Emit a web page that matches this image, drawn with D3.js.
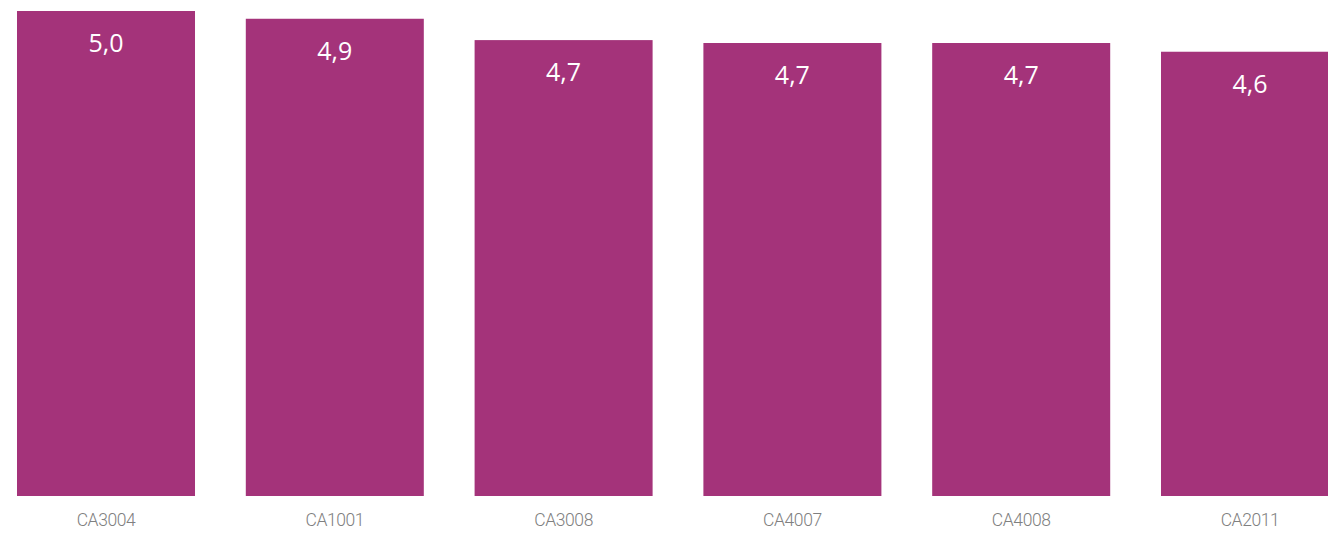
<!DOCTYPE html>
<html>
<head>
<meta charset="utf-8">
<script src="https://cdn.jsdelivr.net/npm/d3@7"></script>
<style>
  html, body { margin: 0; padding: 0; background: #fff; overflow: hidden; }
  svg { display: block; }
</style>
</head>
<body>
<svg id="chart" width="1328" height="536"></svg>
<script>
const categories = ["CA3004", "CA1001", "CA3008", "CA4007", "CA4008", "CA2011"];
const values = [5.0, 4.92, 4.70, 4.67, 4.67, 4.58];

const W = 1328, H = 536;
const svg = d3.select("#chart");

const x = d3.scaleBand()
  .domain(categories)
  .range([-8.4, 1364.4])
  .paddingInner(0.222)
  .paddingOuter(0.111);

const y = d3.scaleLinear()
  .domain([0, 5.0])
  .range([496, 11]);

const fmt = v => d3.format(".1f")(v).replace(".", ",");

svg.selectAll("rect.bar")
  .data(values)
  .join("rect")
  .attr("class", "bar")
  .attr("x", (d, i) => x(categories[i]))
  .attr("y", d => y(d))
  .attr("width", x.bandwidth())
  .attr("height", d => y(0) - y(d))
  .attr("fill", "#a4337a");

svg.selectAll("text.val")
  .data(values)
  .join("text")
  .attr("class", "val")
  .attr("x", (d, i) => x(categories[i]) + x.bandwidth() / 2)
  .attr("y", d => y(d) + 41)
  .attr("text-anchor", "middle")
  .attr("fill", "#ffffff")
  .style("font-family", "'Open Sans', 'Noto Sans', sans-serif")
  .style("font-size", "25px")
  .text(d => fmt(d));

const xAxis = d3.axisBottom(x).tickSize(0).tickPadding(0);
const gx = svg.append("g")
  .attr("transform", "translate(0,496)")
  .call(xAxis);
gx.select(".domain").remove();
gx.selectAll("text")
  .attr("dy", null)
  .attr("y", 30)
  .attr("fill", "#808080")
  .style("font-family", "Roboto, 'Liberation Sans', sans-serif")
  .style("font-weight", "300")
  .style("font-size", "17.5px")
  .style("letter-spacing", "-0.4px");
</script>
</body>
</html>
